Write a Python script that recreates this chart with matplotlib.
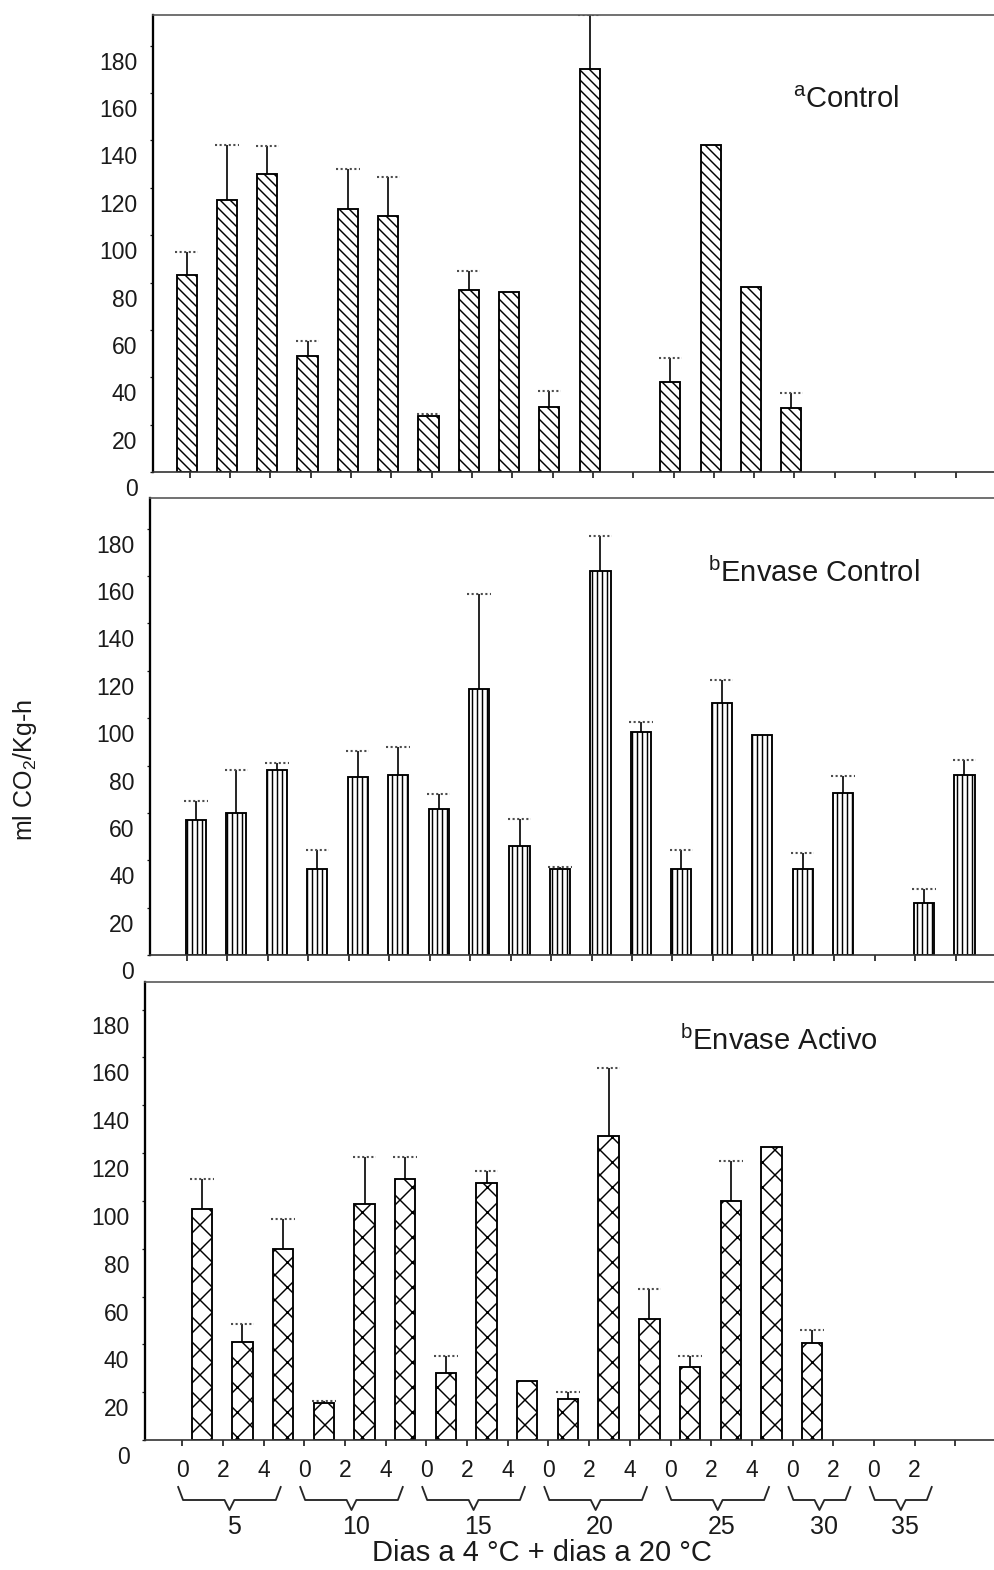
"""CO2 respiration rate per storage condition (three stacked bar panels)."""

import matplotlib
matplotlib.use("Agg")
import matplotlib.pyplot as plt
import matplotlib.transforms as mtransforms
import numpy as np

nan = np.nan

# x axis: days at 4 °C (groups) + days at 20 °C (slots)
group_labels = ["5", "10", "15", "20", "25", "30", "35"]
group_sizes = [3, 3, 3, 3, 3, 2, 2]
day_labels = ["0", "2", "4", "0", "2", "4", "0", "2", "4", "0", "2", "4",
              "0", "2", "4", "0", "2", "0", "2"]
n_slots = 20
y_ticks = [0, 20, 40, 60, 80, 100, 120, 140, 160, 180]

# ml CO2/Kg-h, mean and upper error
control_mean = [83, 115, 126, 49, 111, 108, 23.5, 77, 76, 27.5, 170, nan,
                38, 138, 78, 27, nan, nan, nan, nan]
control_err = [10, 23, 11.5, 6.5, 17, 16.5, 1, 8, nan, 6.5, 23, nan,
               10, nan, nan, 6.5, nan, nan, nan, nan]

env_control_mean = [57, 60, 78, 36.5, 75, 76, 61.5, 112.5, 46, 36.5, 162, 94,
                    36.5, 106.5, 93, 36.5, 68.5, nan, 22, 76]
env_control_err = [8, 18, 3, 8, 11, 12, 6.5, 40, 11.5, 0.5, 15, 4.5,
                   8, 9.5, nan, 6.5, 7, nan, 6, 6.5]

env_activo_mean = [96.5, 41, 80, 15.5, 98.5, 109, 28, 107.5, 24.5, 17, 127, 50.5,
                   30.5, 100, 122.5, 40.5, nan, nan, nan, nan]
env_activo_err = [12.5, 7.5, 12.5, 1, 20, 9.5, 7, 5, nan, 3, 28.5, 12.5,
                  4.5, 16.5, nan, 5.5, nan, nan, nan, nan]

W, H, DPI = 994, 1570, 150
FONT = "Liberation Sans"

plt.rcParams["font.family"] = FONT
plt.rcParams["mathtext.fontset"] = "custom"
plt.rcParams["mathtext.rm"] = FONT
plt.rcParams["hatch.linewidth"] = 0.7

fig = plt.figure(figsize=(W / DPI, H / DPI), dpi=DPI)


def px_axes(left, top, bottom):
    """Axes placed by pixel edges (right edge at the figure border)."""
    return fig.add_axes([left / W, 1 - bottom / H, (W - left) / W, (bottom - top) / H])


def draw_panel(ax, means, errs, hatch, shift, ymax, show_labels):
    means = np.array(means, dtype=float)
    errs = np.array(errs, dtype=float)
    x = np.arange(n_slots) + shift
    ax.bar(x, means, width=0.5, fill=False, hatch=hatch,
           edgecolor="black", linewidth=0.9)
    ok = ~np.isnan(errs) & ~np.isnan(means)
    tops = means + errs
    ax.vlines(x[ok], means[ok], tops[ok], color="black", lw=0.8)
    ax.hlines(tops[ok], x[ok] - 0.29, x[ok] + 0.29, color="0.3", lw=1.0,
              linestyles=(0, (1, 1.2)))

    ax.set_xlim(-0.915, 19.95)
    ax.set_ylim(0, ymax)
    ax.spines["right"].set_visible(False)
    ax.spines["top"].set_color("0.35")
    ax.spines["top"].set_linewidth(0.8)
    ax.spines["top"].set_linestyle((0, (2, 1)))
    ax.spines["left"].set_linewidth(1.1)
    ax.spines["bottom"].set_linewidth(0.8)
    ax.spines["bottom"].set_color("0.2")

    ax.set_yticks(y_ticks)
    ax.set_yticklabels([str(v) for v in y_ticks])
    ax.tick_params(axis="y", direction="out", length=1.5, width=0.6,
                   pad=6, labelsize=11, colors="0.1")
    # scanned original prints the y labels a little below their ticks
    offset = mtransforms.ScaledTranslation(0, -0.1, fig.dpi_scale_trans)
    for lab in ax.get_yticklabels():
        lab.set_transform(lab.get_transform() + offset)

    ax.set_xticks(np.arange(n_slots))
    if show_labels:
        ax.set_xticklabels(day_labels + [""] * (n_slots - len(day_labels)))
    else:
        ax.set_xticklabels([])
    ax.tick_params(axis="x", direction="out", length=3, width=0.8,
                   pad=6, labelsize=11, colors="0.1")


ax1 = px_axes(153, 15, 472)
ax2 = px_axes(150, 498, 955)
ax3 = px_axes(145, 982, 1440)

draw_panel(ax1, control_mean, control_err, "\\" * 5, -0.08, 193, False)
draw_panel(ax2, env_control_mean, env_control_err, "|" * 5, 0.22, 193, False)
draw_panel(ax3, env_activo_mean, env_activo_err, "xx", 0.48, 191.5, True)

# panel titles
title_kw = dict(fontsize=14, ha="left", va="baseline", color="0.1")
fig.text(793 / W, 1 - 108 / H, r"$^{\mathregular{a}}$Control", **title_kw)
fig.text(708 / W, 1 - 582 / H, r"$^{\mathregular{b}}$Envase Control", **title_kw)
fig.text(680 / W, 1 - 1050 / H, r"$^{\mathregular{b}}$Envase Activo", **title_kw)

# braces grouping the x slots by days at 4 °C
trans = mtransforms.blended_transform_factory(ax3.transData, fig.transFigure)
y_top, y_line, y_tip, y_lab = [1 - v / H for v in (1487, 1500, 1510, 1527)]
first = np.cumsum([0] + group_sizes[:-1])
for name, start, size in zip(group_labels, first, group_sizes):
    x0 = start - 0.1
    x1 = start + size - 1 + 0.42
    xm = (x0 + x1) / 2
    d = 0.12
    ax3.plot([x0, x0 + d, xm - d, xm, xm + d, x1 - d, x1],
             [y_top, y_line, y_line, y_tip, y_line, y_line, y_top],
             transform=trans, color="0.15", lw=0.9, clip_on=False)
    ax3.text(xm + 0.1, y_lab, name, transform=trans, ha="center", va="center",
             fontsize=12, color="0.1")

fig.text(542 / W, 1 - 1553 / H, "Dias a 4 °C + dias a 20 °C", ha="center",
         va="center", fontsize=14, color="0.1")
fig.text(25 / W, 1 - 770 / H, "ml CO$_2$/Kg-h", rotation=90, ha="center",
         va="center", fontsize=12, color="0.1")

fig.savefig("out.png", dpi=DPI)
plt.close(fig)
